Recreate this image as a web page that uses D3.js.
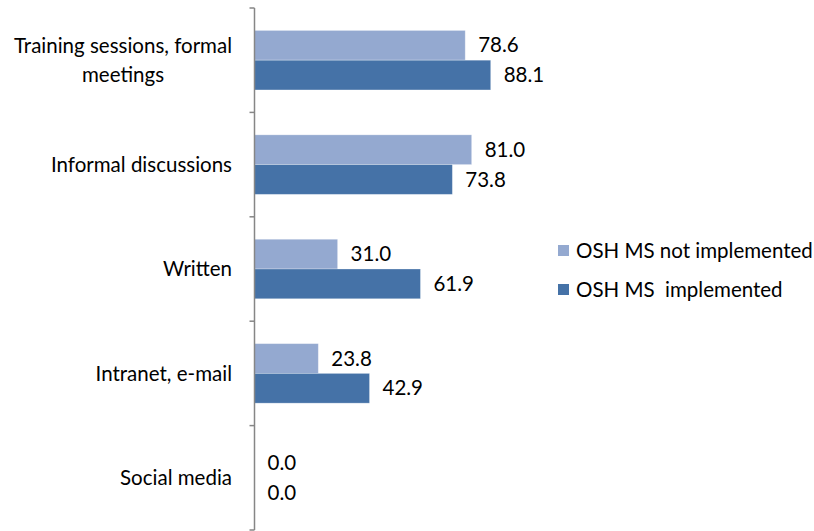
<!DOCTYPE html>
<html>
<head>
<meta charset="utf-8">
<script src="https://cdn.jsdelivr.net/npm/d3@7"></script>
<style>
  html, body { margin: 0; padding: 0; background: #fff; }
  svg { display: block; }
  text { font-family: Lato, "Open Sans", sans-serif; fill: #000; }
</style>
</head>
<body>
<svg id="chart" width="814" height="531"></svg>
<script>
// Communication channels, share of respondents (%)
const categories = [
  ["Training sessions, formal", "meetings"],
  ["Informal discussions"],
  ["Written"],
  ["Intranet, e-mail"],
  ["Social media"]
];
const seriesNames = ["OSH MS not implemented", "OSH MS  implemented"];
const notImplemented = [78.6, 81.0, 31.0, 23.8, 0.0];
const implemented = [88.1, 73.8, 61.9, 42.9, 0.0];
const colors = ["#94a9d0", "#4572a7"];

const svg = d3.select("#chart");
const fontSize = 20.5;

const catIdx = d3.range(categories.length);
const y = d3.scaleBand().domain(catIdx).range([8, 530]).paddingInner(0.43).paddingOuter(0.215);
const ySub = d3.scaleBand().domain([0, 1]).range([0, y.bandwidth()]);
const x = d3.scaleLinear().domain([0, 100]).range([254.5, 522.6]);

const rows = catIdx.map(i => ({ i, vals: [notImplemented[i], implemented[i]] }));

// bars
const groups = svg.append("g").selectAll("g").data(rows).join("g")
  .attr("transform", d => `translate(0,${y(d.i)})`);

groups.selectAll("rect").data(d => d.vals.map((v, s) => ({ v, s }))).join("rect")
  .attr("x", x(0))
  .attr("y", d => ySub(d.s))
  .attr("width", d => x(d.v) - x(0))
  .attr("height", ySub.bandwidth())
  .attr("fill", d => colors[d.s])
  .attr("stroke", d => d.v > 0 ? "rgba(255,255,255,0.35)" : "none")
  .attr("stroke-width", 0.8);

// value labels
groups.selectAll("text.val").data(d => d.vals.map((v, s) => ({ v, s }))).join("text")
  .attr("class", "val")
  .attr("x", d => x(d.v) + 13)
  .attr("y", d => ySub(d.s) + ySub.bandwidth() / 2)
  .attr("dy", "0.35em")
  .style("font-size", fontSize + "px")
  .text(d => d.v.toFixed(1));

// category axis: line with ticks at band boundaries
const axisG = svg.append("g");
const axisX = x(0);
const bounds = catIdx.map(i => y(i) - y.step() * y.paddingInner() / 2).concat([530]);
bounds[0] = 8;
axisG.append("line")
  .attr("x1", axisX).attr("x2", axisX)
  .attr("y1", 8).attr("y2", 530)
  .attr("stroke", "#868686").attr("stroke-width", 1.5);
axisG.selectAll("line.tick").data(bounds).join("line")
  .attr("class", "tick")
  .attr("x1", axisX - 5).attr("x2", axisX)
  .attr("y1", d => d).attr("y2", d => d)
  .attr("stroke", "#868686").attr("stroke-width", 1.5);

// category labels: block right-aligned, lines centred within block
const labelRight = 232;
const lineH = 29;
catIdx.forEach(i => {
  const lines = categories[i];
  const cy = y(i) + y.bandwidth() / 2;
  const g = svg.append("g");
  const texts = g.selectAll("text").data(lines).join("text")
    .style("font-size", fontSize + "px")
    .attr("text-anchor", "middle")
    .attr("dy", "0.35em")
    .attr("y", (d, k) => cy + (k - (lines.length - 1) / 2) * lineH)
    .text(d => d);
  const maxW = d3.max(texts.nodes(), n => n.getComputedTextLength());
  texts.attr("x", labelRight - maxW / 2);
});

// legend
const legend = svg.append("g").attr("transform", "translate(558,0)");
const legendY = [251, 290];
seriesNames.forEach((name, s) => {
  legend.append("rect")
    .attr("x", 0).attr("y", legendY[s] - 6)
    .attr("width", 11).attr("height", 11)
    .attr("fill", colors[s]);
  legend.append("text")
    .attr("x", 18).attr("y", legendY[s])
    .attr("dy", "0.35em")
    .style("font-size", fontSize + "px")
    .style("white-space", "pre")
    .attr("xml:space", "preserve")
    .text(name);
});
</script>
</body>
</html>
